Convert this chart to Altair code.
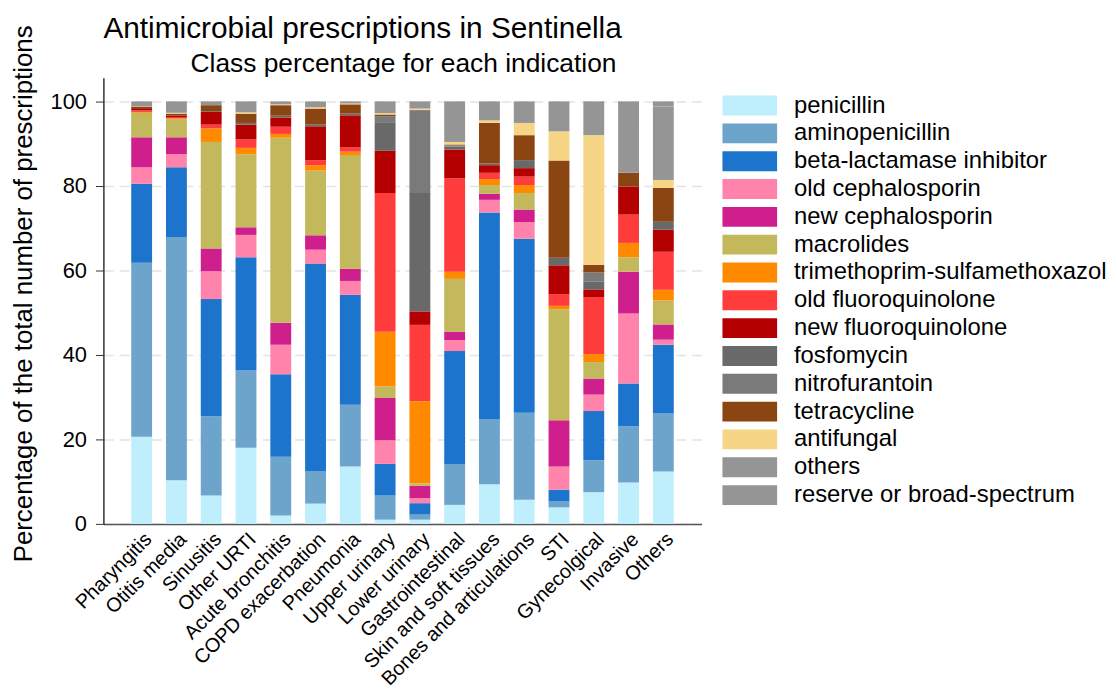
import altair as alt
import pandas as pd

categories = ["Pharyngitis", "Otitis media", "Sinusitis", "Other URTI", "Acute bronchitis",
              "COPD exacerbation", "Pneumonia", "Upper urinary", "Lower urinary",
              "Gastrointestinal", "Skin and soft tissues", "Bones and articulations",
              "STI", "Gynecolgical", "Invasive", "Others"]

classes = ["penicillin", "aminopenicillin", "beta-lactamase inhibitor", "old cephalosporin",
           "new cephalosporin", "macrolides", "trimethoprim-sulfamethoxazol",
           "old fluoroquinolone", "new fluoroquinolone", "fosfomycin", "nitrofurantoin",
           "tetracycline", "antifungal", "others", "reserve or broad-spectrum"]

colors = ["#BFEEFC", "#6DA4CB", "#1C74CC", "#FF83AA", "#CE1F8D", "#C3B85C", "#FF8A00",
          "#FF3C3C", "#B40000", "#696969", "#7A7A7A", "#8B4513", "#F6D587", "#959595", "#959595"]

penicillin      = [20.6, 10.3, 6.7, 18.0, 2.0, 4.8, 13.6, 1.0, 1.0, 4.5, 9.4, 5.7, 3.9, 7.5, 9.8, 12.4]
aminopenicillin = [41.2, 57.5, 18.8, 18.3, 13.9, 7.6, 14.6, 5.7, 1.2, 9.7, 15.3, 20.6, 1.4, 7.6, 13.3, 13.7]
beta_lactamase  = [18.7, 16.6, 27.7, 26.8, 19.5, 49.2, 26.0, 7.5, 2.7, 26.7, 49.0, 41.2, 2.8, 11.6, 10.1, 16.3]
old_ceph        = [3.9, 3.1, 6.6, 5.3, 7.0, 3.3, 3.3, 5.6, 1.2, 2.6, 3.0, 3.9, 5.5, 3.9, 16.6, 1.2]
new_ceph        = [7.1, 4.0, 5.4, 1.8, 5.2, 3.4, 2.9, 10.0, 2.9, 2.0, 1.4, 3.0, 10.9, 3.8, 9.9, 3.6]
macrolides      = [5.8, 4.3, 25.2, 17.3, 43.8, 15.3, 26.9, 2.7, 0.6, 12.5, 2.1, 3.9, 26.3, 3.9, 3.4, 5.7]
trimethoprim    = [0.2, 0.2, 3.2, 1.5, 0.9, 1.3, 0.8, 13.0, 19.4, 1.7, 1.4, 1.9, 0.8, 1.9, 3.4, 2.5]
old_fq          = [0.4, 0.3, 0.9, 2.0, 1.7, 1.2, 1.0, 32.8, 18.1, 22.1, 1.5, 2.0, 2.8, 13.5, 6.7, 9.0]
new_fq          = [0.3, 0.3, 3.0, 3.5, 2.2, 8.0, 7.6, 10.0, 3.2, 6.8, 1.8, 2.0, 6.8, 1.8, 6.6, 5.2]
fosfomycin      = [0.0, 0.0, 0.2, 0.4, 0.4, 0.4, 0.4, 6.6, 28.0, 0.7, 0.4, 1.9, 1.8, 1.8, 0.0, 1.9]
nitrofurantoin  = [0.0, 0.0, 0.0, 0.0, 0.0, 0.0, 0.0, 1.6, 19.6, 0.3, 0.0, 0.0, 0.0, 2.2, 0.0, 0.0]
tetracycline    = [0.6, 0.5, 1.4, 2.2, 2.5, 3.8, 2.2, 0.4, 0.1, 0.2, 9.6, 5.9, 23.0, 1.8, 3.3, 8.0]
antifungal      = [0.1, 0.2, 0.0, 0.3, 0.2, 0.3, 0.2, 0.3, 0.3, 0.6, 0.6, 2.9, 6.9, 30.7, 0.0, 1.9]
others          = [1.1, 2.7, 0.9, 2.6, 0.7, 1.4, 0.5, 2.8, 1.7, 9.6, 4.5, 5.1, 7.1, 8.0, 10.1, 17.4]
reserve         = [0.0, 0.0, 0.0, 0.0, 0.0, 0.0, 0.0, 0.0, 0.0, 0.0, 0.0, 0.0, 0.0, 0.0, 6.8, 1.2]

series = [penicillin, aminopenicillin, beta_lactamase, old_ceph, new_ceph, macrolides,
          trimethoprim, old_fq, new_fq, fosfomycin, nitrofurantoin, tetracycline,
          antifungal, others, reserve]

title_text = "Antimicrobial prescriptions in Sentinella"
subtitle_text = "Class percentage for each indication"

rows = []
for ci, (cls, vals) in enumerate(zip(classes, series)):
    for cat, v in zip(categories, vals):
        rows.append({"indication": cat, "cls": cls, "ord": ci, "pct": v})
df = pd.DataFrame(rows)

FONT = "Liberation Sans"

bars = alt.Chart(df).mark_bar().encode(
    x=alt.X("indication:N", sort=categories,
            scale=alt.Scale(paddingInner=0.4, paddingOuter=0.8),
            axis=alt.Axis(title=None, labelAngle=315, labelAlign="right", labelBaseline="top",
                          labelFontSize=20, labelFont=FONT, labelColor="#000000",
                          ticks=False, labelPadding=5, domainColor="#555555",
                          domainWidth=1.5, grid=False, labelOverlap=False, labelLimit=400)),
    y=alt.Y("pct:Q", stack="zero",
            scale=alt.Scale(domain=[0, 105.6], nice=False, zero=True),
            axis=alt.Axis(title="Percentage of the total number of prescriptions",
                          values=[0, 20, 40, 60, 80, 100], titleFontSize=26, titleFont=FONT,
                          titleFontWeight="normal", titleColor="#000000", titlePadding=14,
                          titleY=217,
                          labelFontSize=22, labelFont=FONT, labelColor="#000000",
                          tickSize=8, tickColor="#333333", labelPadding=9,
                          domainColor="#333333", domainWidth=1.5,
                          grid=True, gridColor="#E4E4E4", gridDash=[10, 6], gridWidth=1.5)),
    color=alt.Color("cls:N", scale=alt.Scale(domain=classes, range=colors),
                    legend=alt.Legend(title=None, orient="none", legendX=621, legendY=16,
                                      symbolType="M-1,-1L4.5,-1L4.5,1L-1,1Z",
                                      symbolSize=400, symbolStrokeWidth=0, symbolOpacity=1,
                                      labelFontSize=24, labelFont=FONT, labelColor="#000000",
                                      labelOffset=50, rowPadding=4, labelLimit=500)),
    order=alt.Order("ord:Q", sort="ascending"),
)

title = alt.Chart(pd.DataFrame({"t": [title_text]})).mark_text(
    fontSize=30, font=FONT, color="#000000", align="left", baseline="alphabetic"
).encode(x=alt.value(0), y=alt.value(-40), text="t:N")

subtitle = alt.Chart(pd.DataFrame({"t": [subtitle_text]})).mark_text(
    fontSize=26.5, font=FONT, color="#000000", align="center", baseline="alphabetic"
).encode(x=alt.value(302), y=alt.value(-6), text="t:N")

chart = alt.layer(bars, title, subtitle).properties(
    width=602, height=449,
    autosize=alt.AutoSizeParams(type="none"),
    padding={"left": 96, "top": 68, "right": 410, "bottom": 164},
).configure_view(stroke=None)

chart.save("out.html", embed_options={"renderer": "svg", "actions": False})
